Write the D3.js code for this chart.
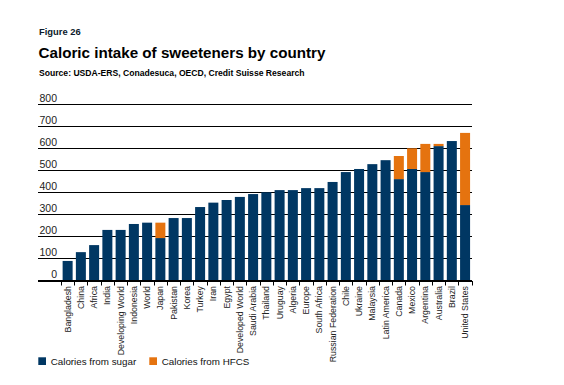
<!DOCTYPE html>
<html>
<head>
<meta charset="utf-8">
<script src="https://cdn.jsdelivr.net/npm/d3@7"></script>
<style>
  html, body { margin: 0; padding: 0; background: #fff; }
  svg { display: block; font-family: "Liberation Sans", Arial, Helvetica, sans-serif; }
</style>
</head>
<body>
<svg id="chart" width="564" height="385"></svg>
<script>
const categories = ["Bangladesh","China","Africa","India","Developing World","Indonesia","World","Japan","Pakistan","Korea","Turkey","Iran","Egypt","Developed World","Saudi Arabia","Thailand","Uruguay","Algeria","Europe","South Africa","Russian Federation","Chile","Ukraine","Malaysia","Latin America","Canada","Mexico","Argentina","Australia","Brazil","United States"];
const sugar = [88,128,160,229,229,256,262,192,283,283,333,353,365,379,392,400,410,410,419,419,447,492,506,528,546,460,506,492,610,633,342];
const hfcs  = [0,0,0,0,0,0,0,70,0,0,0,0,0,0,0,0,0,0,0,0,0,0,0,0,0,105,94,128,10,0,328];
const yTicks = [0,100,200,300,400,500,600,700,800];
const seriesNames = ["Calories from sugar","Calories from HFCS"];
const colors = ["#003763","#E5730F"];

const svg = d3.select("#chart");

// Header
svg.append("text").attr("x", 39).attr("y", 35).attr("font-size", 9.4).attr("font-weight", "bold").attr("fill", "#0b1a2b").text("Figure 26");
svg.append("text").attr("x", 38.5).attr("y", 57.7).attr("font-size", 15.2).attr("font-weight", "bold").attr("fill", "#000").text("Caloric intake of sweeteners by country");
svg.append("text").attr("x", 39).attr("y", 75.5).attr("font-size", 8.6).attr("font-weight", "bold").attr("fill", "#000").text("Source: USDA-ERS, Conadesuca, OECD, Credit Suisse Research");

const y = d3.scaleLinear().domain([0, 800]).range([280.3, 104.3]);
const xCell = d3.scaleBand().domain(categories).range([61, 471.7]).padding(0);
const x = d3.scaleBand().domain(categories).range([61, 471.7]).paddingInner(0.245).paddingOuter(0.1225);

const gridLeft = 38, gridRight = 472;

// Gridlines
svg.append("g").selectAll("line").data(yTicks.filter(t => t > 0)).join("line")
  .attr("x1", gridLeft).attr("x2", gridRight)
  .attr("y1", d => Math.round(y(d)) + 0.5).attr("y2", d => Math.round(y(d)) + 0.5)
  .attr("stroke", "#000").attr("stroke-width", 1);

// Y labels (above gridlines, right aligned)
svg.append("g").selectAll("text").data(yTicks).join("text")
  .attr("x", 57).attr("y", d => y(d) - 2.5)
  .attr("text-anchor", "end").attr("font-size", 10.5).attr("fill", "#222")
  .text(d => d);

// Bars
const rows = categories.map((c, i) => ({ cat: c, sugar: sugar[i], hfcs: hfcs[i] }));
const stack = d3.stack().keys(["sugar", "hfcs"])(rows);
svg.append("g").selectAll("g").data(stack).join("g")
  .attr("fill", (d, i) => colors[i])
  .selectAll("rect").data(d => d).join("rect")
  .attr("x", d => x(d.data.cat))
  .attr("width", x.bandwidth())
  .attr("y", d => y(d[1]))
  .attr("height", d => Math.max(0, y(d[0]) - y(d[1])));

// Baseline axis
svg.append("line").attr("x1", gridLeft).attr("x2", gridRight)
  .attr("y1", 281).attr("y2", 281).attr("stroke", "#000").attr("stroke-width", 2);

// Ticks at cell boundaries
const bounds = categories.map(c => xCell(c)).concat([xCell.range()[1]]);
svg.append("g").selectAll("line").data(bounds).join("line")
  .attr("x1", d => Math.round(d) + 0.5).attr("x2", d => Math.round(d) + 0.5)
  .attr("y1", 281).attr("y2", 285.5)
  .attr("stroke", "#000").attr("stroke-width", 1);

// Category labels
svg.append("g").selectAll("text").data(categories).join("text")
  .attr("transform", d => `translate(${xCell(d) + xCell.bandwidth() / 2 + 3},286) rotate(-90)`)
  .attr("text-anchor", "end").attr("font-size", 8.8).attr("fill", "#222")
  .text(d => d);

// Legend
const legX = [38.3, 149.3];
seriesNames.forEach((name, i) => {
  svg.append("rect").attr("x", legX[i]).attr("y", 357.3).attr("width", 7.7).attr("height", 7.7).attr("fill", colors[i]);
  svg.append("text").attr("x", legX[i] + 12.4).attr("y", 364.8).attr("font-size", 9.8).attr("fill", "#111").text(name);
});
</script>
</body>
</html>
